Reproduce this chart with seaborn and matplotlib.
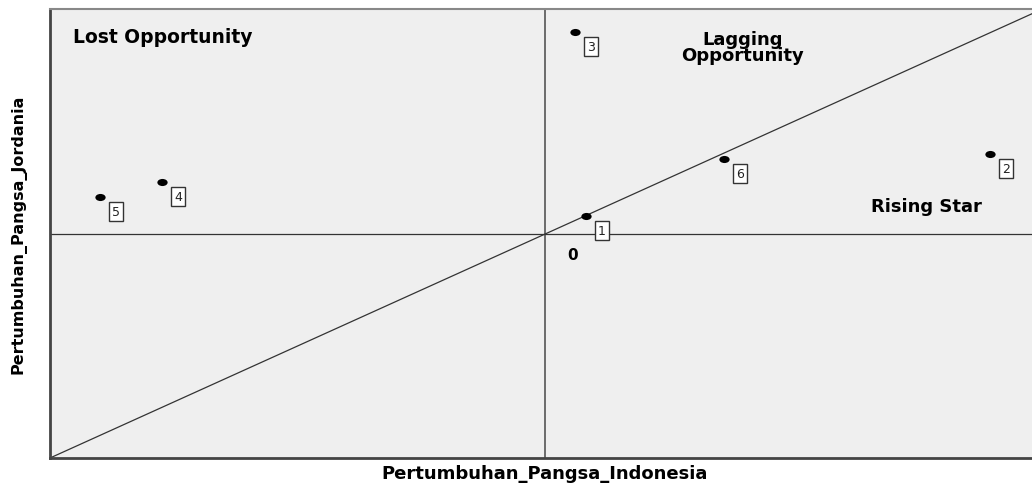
import matplotlib
matplotlib.use("Agg")
import matplotlib.pyplot as plt
from matplotlib.path import Path
from matplotlib.transforms import Affine2D
import seaborn as sns
import pandas as pd

# product codes and their growth shares (no axis ticks)
ids = ["1", "2", "3", "4", "5", "6"]
growth_indonesia = [0.083, 0.899, 0.061, -0.774, -0.899, 0.362]
growth_jordan = [0.080, 0.357, 0.902, 0.232, 0.165, 0.335]

df = pd.DataFrame({"id": ids, "x": growth_indonesia, "y": growth_jordan})

sns.set_style("white")
plt.rcParams["font.family"] = ["DejaVu Sans"]
plt.rcParams["text.color"] = "black"
plt.rcParams["axes.labelcolor"] = "black"

fig = plt.figure(figsize=(10.32, 4.85), dpi=100)
ax = fig.add_axes([50 / 1032, 26 / 485, 990 / 1032, 449 / 485])
ax.set_facecolor("#efefef")

ax.set_xlim(-1, 1)
ax.set_ylim(-1, 1.005)

# quadrant lines and diagonal y = x
ax.axvline(0, color="#555555", lw=1.2, zorder=1)
ax.axhline(0, color="#333333", lw=0.9, zorder=1)
ax.plot([-1, 1], [-1, 1], color="#333333", lw=0.9, zorder=1)

# dots are a bit wider than tall in the original
dot = Path.unit_circle().transformed(Affine2D().scale(1.45, 1.0))
sns.scatterplot(data=df, x="x", y="y", color="black", s=55, marker=dot,
                edgecolor="black", linewidth=0, ax=ax, zorder=3)

for _, r in df.iterrows():
    ax.annotate(r["id"], (r["x"], r["y"]), xytext=(11.5, -10.5), textcoords="offset points",
                fontsize=9, va="center", ha="center", color="#222222",
                bbox=dict(boxstyle="square,pad=0.22", fc="white", ec="#333333", lw=1))

ax.text(-0.953, 0.88, "Lost Opportunity", fontsize=13.5, fontweight="bold",
        ha="left", va="center")
ax.text(0.40, 0.835, "Lagging\nOpportunity", fontsize=13, fontweight="bold",
        ha="center", va="center", linespacing=0.8)
ax.text(0.77, 0.125, "Rising Star", fontsize=13, fontweight="bold",
        ha="center", va="center")
ax.text(0.055, -0.09, "0", fontsize=11, fontweight="bold",
        ha="center", va="center")

ax.set_xticks([])
ax.set_yticks([])
ax.set_xlabel("Pertumbuhan_Pangsa_Indonesia", fontsize=13, fontweight="bold",
              labelpad=4)
ax.set_ylabel("Pertumbuhan_Pangsa_Jordania", fontsize=11.5, fontweight="bold",
              labelpad=17)

for side in ["left", "bottom"]:
    ax.spines[side].set_color("#444444")
    ax.spines[side].set_linewidth(2)
ax.spines["top"].set_color("#888888")
ax.spines["top"].set_linewidth(1.5)
ax.spines["right"].set_visible(False)

fig.savefig("out.png", dpi=100)
